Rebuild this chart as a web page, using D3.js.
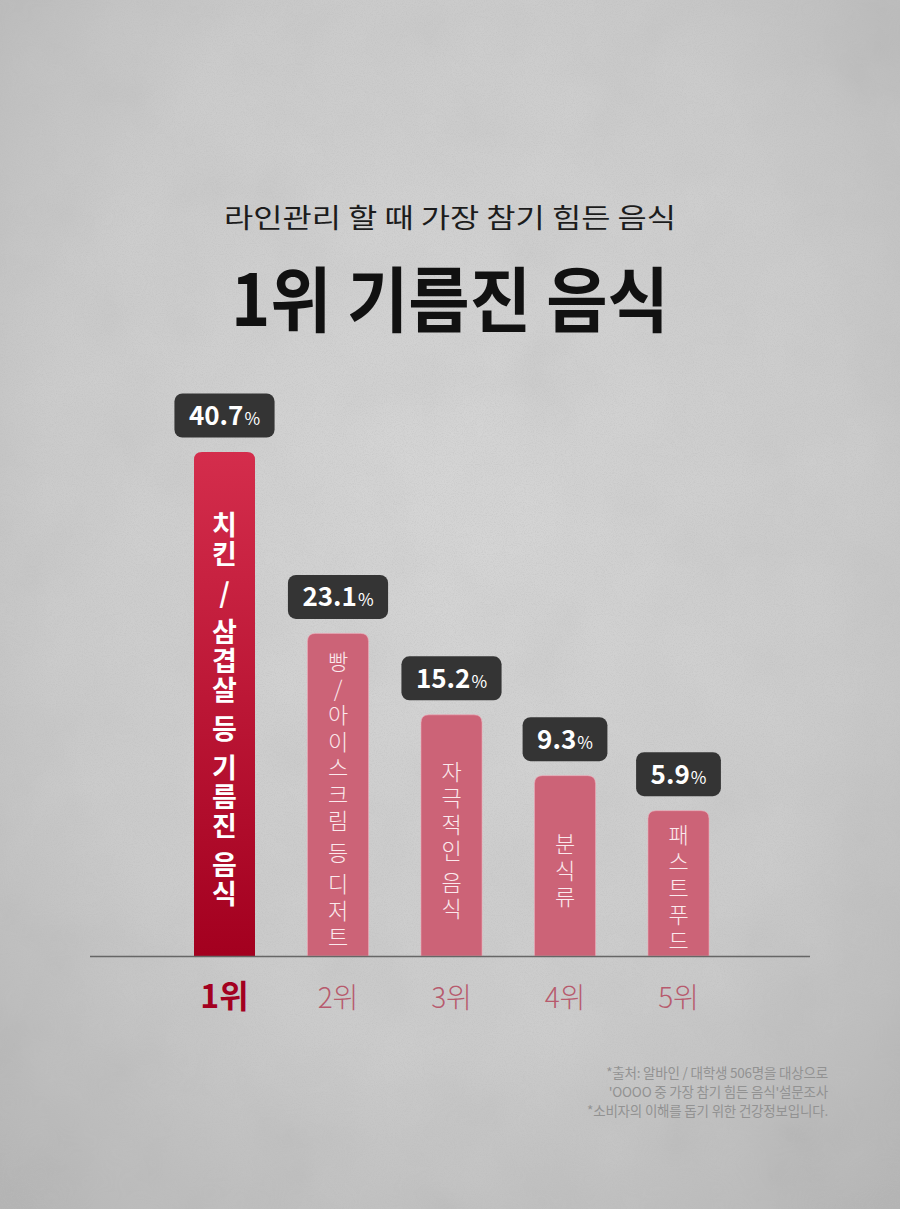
<!DOCTYPE html>
<html><head><meta charset="utf-8">
<script src="https://cdn.jsdelivr.net/npm/d3@7"></script>
<style>
html,body{margin:0;padding:0;background:#c9c9c9;}
svg{display:block;font-family:"Noto Sans CJK KR","Noto Sans",sans-serif;}
</style></head>
<body>
<svg id="chart" width="900" height="1209"></svg>
<script>
// ---- data ----
const subtitle = "라인관리 할 때 가장 참기 힘든 음식";
const title = "1위 기름진 음식";
const categories = ["치킨 / 삼겹살 등 기름진 음식", "빵/아이스크림 등 디저트", "자극적인 음식", "분식류", "패스트푸드"];
const values = [40.7, 23.1, 15.2, 9.3, 5.9];
const rankLabels = ["1위", "2위", "3위", "4위", "5위"];
const notes = ["*출처: 알바인 / 대학생 506명을 대상으로", "'OOOO 중 가장 참기 힘든 음식'설문조사", "*소비자의 이해를 돕기 위한 건강정보입니다."];

const W = 900, H = 1209;
const svg = d3.select("#chart");
const defs = svg.append("defs");

// background
const bg = defs.append("radialGradient").attr("id","bg").attr("cx","50%").attr("cy","42%").attr("r","75%");
bg.append("stop").attr("offset","0%").attr("stop-color","#d6d6d6");
bg.append("stop").attr("offset","60%").attr("stop-color","#cbcbcb");
bg.append("stop").attr("offset","100%").attr("stop-color","#b4b4b4");
const nf = defs.append("filter").attr("id","noise").attr("x",0).attr("y",0).attr("width","100%").attr("height","100%");
nf.append("feTurbulence").attr("type","fractalNoise").attr("baseFrequency","0.9").attr("numOctaves",2).attr("seed",3).attr("result","n");
nf.append("feColorMatrix").attr("type","matrix").attr("values","0 0 0 0 0.5  0 0 0 0 0.5  0 0 0 0 0.5  0 0 0 -2.2 1.25");
const bf = defs.append("filter").attr("id","blotch").attr("x",0).attr("y",0).attr("width","100%").attr("height","100%");
bf.append("feTurbulence").attr("type","fractalNoise").attr("baseFrequency","0.012").attr("numOctaves",3).attr("seed",8);
bf.append("feColorMatrix").attr("type","saturate").attr("values","0");
svg.append("rect").attr("width",W).attr("height",H).attr("fill","url(#bg)");
svg.append("rect").attr("width",W).attr("height",H).attr("filter","url(#blotch)").attr("opacity",0.10);
svg.append("rect").attr("width",W).attr("height",H).attr("filter","url(#noise)").attr("opacity",0.4);

// titles
svg.append("text").attr("x",W/2).attr("y",228).attr("text-anchor","middle")
  .attr("font-size",27).attr("fill","#1c1c1c").attr("textLength",452).attr("lengthAdjust","spacingAndGlyphs")
  .text(subtitle);
svg.append("text").attr("x",W/2).attr("y",326).attr("text-anchor","middle")
  .attr("font-size",71).attr("font-weight",700).attr("fill","#111").attr("textLength",438).attr("lengthAdjust","spacingAndGlyphs")
  .text(title);

// scales
const baseY = 956;
const x = d3.scalePoint().domain(categories).range([167.75, 735.25]).padding(0.5);
const y = d3.scaleLinear().domain([-8.2, 40.7]).range([baseY, 452]);
const barW = 61, r = 8;

const g1 = defs.append("linearGradient").attr("id","top1").attr("x1",0).attr("y1",0).attr("x2",0).attr("y2",1);
g1.append("stop").attr("offset","0%").attr("stop-color","#d42d4c");
g1.append("stop").attr("offset","100%").attr("stop-color","#a3001f");

function barPath(cx, top){
  const l = cx - barW/2, rr = cx + barW/2;
  return `M${l},${baseY}V${top+r}Q${l},${top} ${l+r},${top}H${rr-r}Q${rr},${top} ${rr},${top+r}V${baseY}Z`;
}

const data = categories.map((c,i)=>({c, v:values[i], rank:rankLabels[i], i}));

svg.append("g").selectAll("path").data(data).join("path")
  .attr("d", d=>barPath(x(d.c), y(d.v)))
  .attr("fill", d=> d.i===0 ? "url(#top1)" : "#cc6377")
  .attr("stroke", d=> d.i===0 ? "none" : "rgba(240,170,185,0.6)")
  .attr("stroke-width",1);

// vertical text inside bars (one text element per bar, one tspan per glyph)
data.forEach(d=>{
  const first = d.i===0;
  const fs = first ? 27 : 22, pitch = first ? 29 : 26.5, sp = first ? 10 : 5;
  const chars = Array.from(d.c);
  let pos = [], acc = 0;
  chars.forEach(ch=>{
    if(ch===" "){ acc += sp; return; }
    pos.push({ch, o:acc}); acc += pitch;
  });
  const span = pos[pos.length-1].o;
  const top = y(d.v);
  const mid = (top + baseY)/2 + 3;
  const start = mid - span/2;
  const t = svg.append("text")
    .attr("text-anchor","middle").attr("dominant-baseline","central")
    .attr("font-size", fs).attr("font-weight", first?700:300)
    .attr("fill", first ? "#ffffff" : "#fbe9ed");
  t.selectAll("tspan").data(pos).join("tspan")
    .attr("x", x(d.c)).attr("y", p=>start + p.o)
    .text(p=>p.ch);
});

// value labels
data.forEach(d=>{
  const cx = x(d.c), top = y(d.v);
  const bh = 44, gap = 14.5;
  const g = svg.append("g");
  const rect = g.append("rect").attr("fill","#343434").attr("rx",8).attr("ry",8);
  const t = g.append("text").attr("text-anchor","middle").attr("fill","#fff")
    .attr("y", top - gap - bh/2 + 9.5).attr("x", cx);
  t.append("tspan").attr("font-size",26).attr("font-weight",700).text(d.v.toFixed(1));
  t.append("tspan").attr("font-size",17).attr("font-weight",400).attr("dx",1).text("%");
  const w = t.node().getComputedTextLength() + 30;
  rect.attr("x", cx - w/2).attr("y", top - gap - bh).attr("width", w).attr("height", bh);
});

// baseline
svg.append("line").attr("x1",90).attr("x2",810).attr("y1",baseY+0.5).attr("y2",baseY+0.5)
  .attr("stroke","#666").attr("stroke-width",1.5);

// rank labels
svg.append("g").selectAll("text").data(data).join("text")
  .attr("x", d=>x(d.c)).attr("y", 1008).attr("text-anchor","middle")
  .attr("font-size", d=>d.i===0?32:28).attr("font-weight", d=>d.i===0?700:300)
  .attr("fill", d=>d.i===0?"#a3001f":"#b75a6d")
  .text(d=>d.rank);

// footnotes
svg.append("g").selectAll("text").data(notes).join("text")
  .attr("x",828).attr("y",(d,i)=>1078 + i*19).attr("text-anchor","end")
  .attr("font-size",13.5).attr("letter-spacing",-0.2).attr("fill","#929292")
  .text(d=>d);
</script>
</body></html>
